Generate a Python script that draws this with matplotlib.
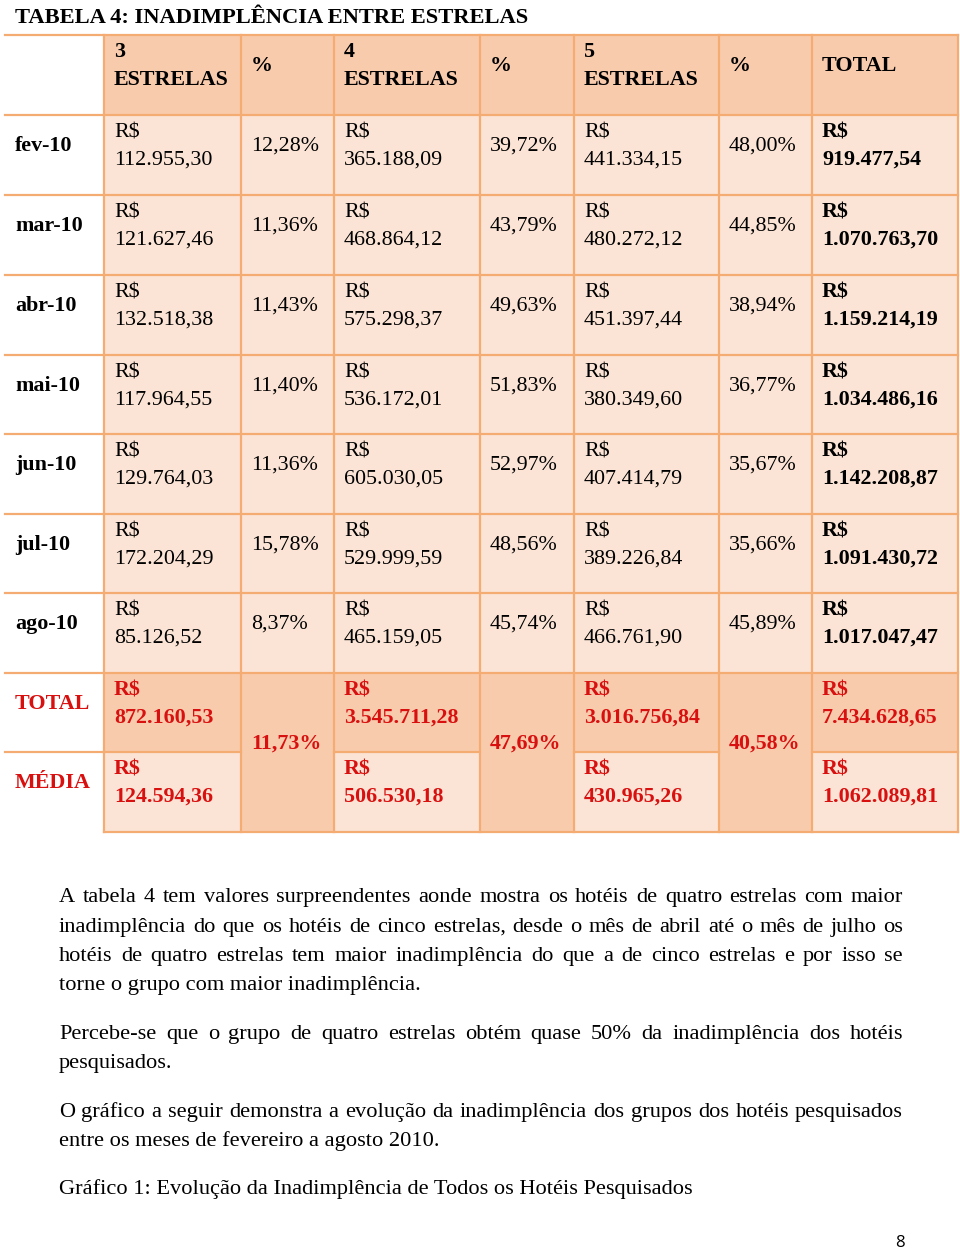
import matplotlib.pyplot as plt
from matplotlib.patches import Rectangle

# table data
months = ['fev-10', 'mar-10', 'abr-10', 'mai-10', 'jun-10', 'jul-10', 'ago-10']
val_3 = [112955.30, 121627.46, 132518.38, 117964.55, 129764.03, 172204.29, 85126.52]
pct_3 = [12.28, 11.36, 11.43, 11.40, 11.36, 15.78, 8.37]
val_4 = [365188.09, 468864.12, 575298.37, 536172.01, 605030.05, 529999.59, 465159.05]
pct_4 = [39.72, 43.79, 49.63, 51.83, 52.97, 48.56, 45.74]
val_5 = [441334.15, 480272.12, 451397.44, 380349.60, 407414.79, 389226.84, 466761.90]
pct_5 = [48.00, 44.85, 38.94, 36.77, 35.67, 35.66, 45.89]
total = [919477.54, 1070763.70, 1159214.19, 1034486.16, 1142208.87, 1091430.72, 1017047.47]
header = [('3', 'ESTRELAS'), '%', ('4', 'ESTRELAS'), '%', ('5', 'ESTRELAS'), '%', 'TOTAL']
sum_vals = [872160.53, 3545711.28, 3016756.84, 7434628.65]
avg_vals = [124594.36, 506530.18, 430965.26, 1062089.81]
sum_pct = [11.73, 47.69, 40.58]

title = 'TABELA 4: INADIMPLÊNCIA ENTRE ESTRELAS'
paragraphs = [
    ['A tabela 4 tem valores surpreendentes aonde mostra os hotéis de quatro estrelas com maior',
     'inadimplência do que os hotéis de cinco estrelas, desde o mês de abril até o mês de julho os',
     'hotéis de quatro estrelas tem maior inadimplência do que a de cinco estrelas e por isso se',
     'torne o grupo com maior inadimplência.'],
    ['Percebe-se que o grupo de quatro estrelas obtém quase 50% da inadimplência dos hotéis',
     'pesquisados.'],
    ['O gráfico a seguir demonstra a evolução da inadimplência dos grupos dos hotéis pesquisados',
     'entre os meses de fevereiro a agosto 2010.'],
    ['Gráfico 1: Evolução da Inadimplência de Todos os Hotéis Pesquisados'],
]


def brl(v):
    s = f'{v:,.2f}'
    return s.replace(',', 'X').replace('.', ',').replace('X', '.')


def pct(v):
    return f'{v:.2f}%'.replace('.', ',')


DARK = '#F8CBAD'
LIGHT = '#FBE4D5'
LINE = '#F4AC72'
RED = '#D8100F'
SERIF = 'Liberation Serif'
FS = 15.8

fig = plt.figure(figsize=(9.6, 12.49), dpi=100)
ax = fig.add_axes([0, 0, 1, 1])
ax.set_xlim(0, 960)
ax.set_ylim(1249, 0)
ax.axis('off')

cols = [5, 104, 241, 334, 480, 574, 719, 812, 958]
rows = [35, 115, 195, 275, 355, 434, 514, 593, 673, 752, 832]


def cell(x0, x1, y0, y1, color):
    ax.add_patch(Rectangle((x0, y0), x1 - x0, y1 - y0, facecolor=color, edgecolor='none', zorder=0))


def txt(x, y, s, bold=False, color='black', size=FS, family=SERIF):
    return ax.text(x, y, s, fontsize=size, family=family, color=color,
                   fontweight='bold' if bold else 'normal', va='baseline', ha='left')


# fills
for c in range(1, 8):
    cell(cols[c], cols[c + 1], rows[0], rows[1], DARK)
    for r in range(1, 8):
        cell(cols[c], cols[c + 1], rows[r], rows[r + 1], LIGHT)
for c in (1, 3, 5, 7):
    cell(cols[c], cols[c + 1], rows[8], rows[9], DARK)
    cell(cols[c], cols[c + 1], rows[9], rows[10], LIGHT)
for c in (2, 4, 6):
    cell(cols[c], cols[c + 1], rows[8], rows[10], DARK)

# grid lines
lw = 1.6
for y in rows[:10]:
    if y == rows[9]:
        for c in (0, 1, 3, 5, 7):
            ax.plot([cols[c], cols[c + 1]], [y, y], color=LINE, lw=lw, solid_capstyle='projecting')
    else:
        ax.plot([cols[0], cols[-1]], [y, y], color=LINE, lw=lw, solid_capstyle='projecting')
ax.plot([cols[1], cols[-1]], [rows[-1], rows[-1]], color=LINE, lw=lw, solid_capstyle='projecting')
for x in cols[1:]:
    ax.plot([x, x], [rows[0], rows[-1]], color=LINE, lw=lw, solid_capstyle='projecting')

# title
txt(15, 23, title, bold=True, size=16.2)

# header
for i, h in enumerate(header):
    x = cols[i + 1] + 10
    if isinstance(h, tuple):
        txt(x, rows[0] + 22, h[0], bold=True)
        txt(x, rows[0] + 50, h[1], bold=True)
    else:
        txt(x, rows[0] + 36, h, bold=True)

# body rows
for r, m in enumerate(months):
    top = rows[r + 1]
    txt(15, top + 36, m, bold=True)
    vals = [val_3[r], val_4[r], val_5[r], total[r]]
    pcts = [pct_3[r], pct_4[r], pct_5[r]]
    for k, c in enumerate((1, 3, 5, 7)):
        b = c == 7
        txt(cols[c] + 10, top + 22, 'R$', bold=b)
        txt(cols[c] + 10, top + 50, brl(vals[k]), bold=b)
    for k, c in enumerate((2, 4, 6)):
        txt(cols[c] + 10, top + 36, pct(pcts[k]))

# total / media rows
for label, vals, top in (('TOTAL', sum_vals, rows[8]), ('MÉDIA', avg_vals, rows[9])):
    txt(15, top + 36, label, bold=True, color=RED)
    for k, c in enumerate((1, 3, 5, 7)):
        txt(cols[c] + 10, top + 22, 'R$', bold=True, color=RED)
        txt(cols[c] + 10, top + 50, brl(vals[k]), bold=True, color=RED)
for k, c in enumerate((2, 4, 6)):
    txt(cols[c] + 10, rows[8] + 76, pct(sum_pct[k]), bold=True, color=RED)

# paragraphs, justified by hand
renderer = fig.canvas.get_renderer()
PFS = 16.1
X0, X1 = 59, 903
baselines = [[902, 932, 961, 990], [1039, 1068], [1117, 1146], [1194]]
for lines, ys in zip(paragraphs, baselines):
    for j, (line, y) in enumerate(zip(lines, ys)):
        last = j == len(lines) - 1
        if last:
            txt(X0, y, line, size=PFS)
            continue
        words = line.split(' ')
        items = [txt(0, y, w, size=PFS) for w in words]
        widths = [t.get_window_extent(renderer).width for t in items]
        gap = (X1 - X0 - sum(widths)) / (len(words) - 1)
        x = X0
        for t, w in zip(items, widths):
            t.set_x(x)
            x += w + gap

txt(895, 1247, '8', size=12, family='Open Sans')

fig.savefig('out.png', dpi=100)
